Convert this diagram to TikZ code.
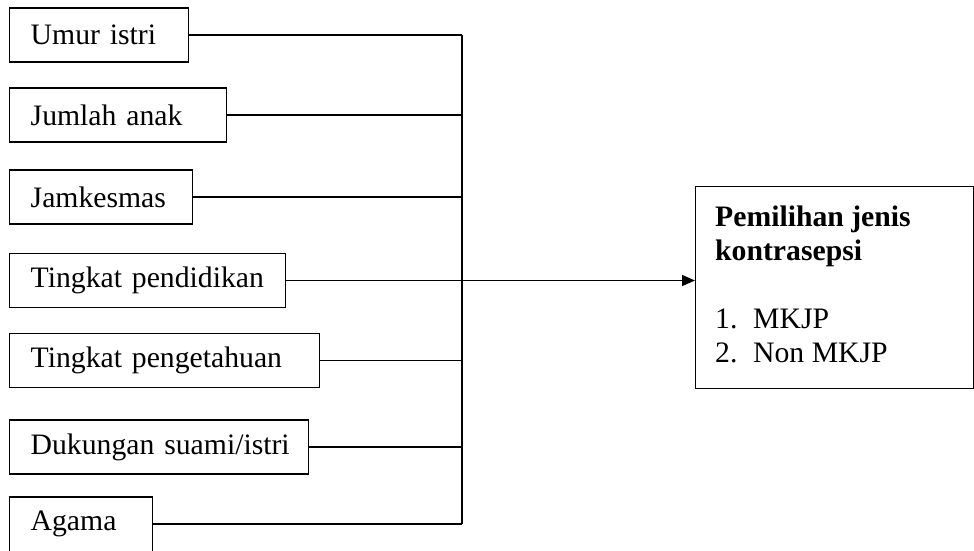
\documentclass[tikz,border=0pt]{standalone}
\usepackage{fontspec}
\setmainfont{Liberation Serif}
\usetikzlibrary{arrows.meta}
\tikzset{
  fbox/.style={draw, line width=1.4pt, anchor=west, minimum height=54pt, inner xsep=21pt, inner ysep=0pt, align=left, font=\fontsize{29.7}{34}\selectfont},
  link/.style={line width=1.2pt},
  busline/.style={line width=1.8pt},
  arr/.style={line width=1.2pt, -{Triangle[length=13pt,width=11pt]}}
}
\begin{document}
\begin{tikzpicture}[x=1pt,y=-1pt]
\useasboundingbox (0,0) rectangle (974,550);
\node[fbox, text width=137pt] (b1) at (9,35) {\mbox{Umur istri}};
\node[fbox, text width=175pt] (b2) at (9,115) {\mbox{Jumlah anak}};
\node[fbox, text width=141pt] (b3) at (9,197) {\mbox{Jamkesmas}};
\node[fbox, text width=234pt] (b4) at (9,280.5) {\mbox{Tingkat pendidikan}};
\node[fbox, text width=268pt] (b5) at (9,360.5) {\mbox{Tingkat pengetahuan}};
\node[fbox, text width=257pt] (b6) at (9,447) {\mbox{Dukungan suami/istri}};
\node[fbox, text width=101pt, minimum height=80pt] (b7) at (9,537) {\raisebox{13pt}[\height][\depth]{Agama}};
\coordinate (bustop) at (462,35);
\coordinate (busbot) at (462,524);
\node[draw, line width=1.4pt, anchor=north west, minimum width=278pt, minimum height=202pt, inner sep=0pt] (res) at (695,186) {};
\node[anchor=base west, align=left, inner sep=0pt, font=\fontsize{29.7}{34}\selectfont] (rt) at (715,362)
  {\textbf{Pemilihan jenis}\\\textbf{kontrasepsi}\\[34pt]\makebox[38pt][l]{1.}MKJP\\\makebox[38pt][l]{2.}Non MKJP};
\foreach \b in {b1,b2,b3,b4,b5,b6}{
  \draw[link] (\b.east) -- (\b.east -| bustop);
}
\draw[link] ([yshift=13pt]b7.east) -- ([yshift=13pt]b7.east -| bustop);
\draw[busline] (bustop) -- (busbot);
\draw[arr] (b4.east -| bustop) -- (res.west |- b4.east);
\end{tikzpicture}
\end{document}
